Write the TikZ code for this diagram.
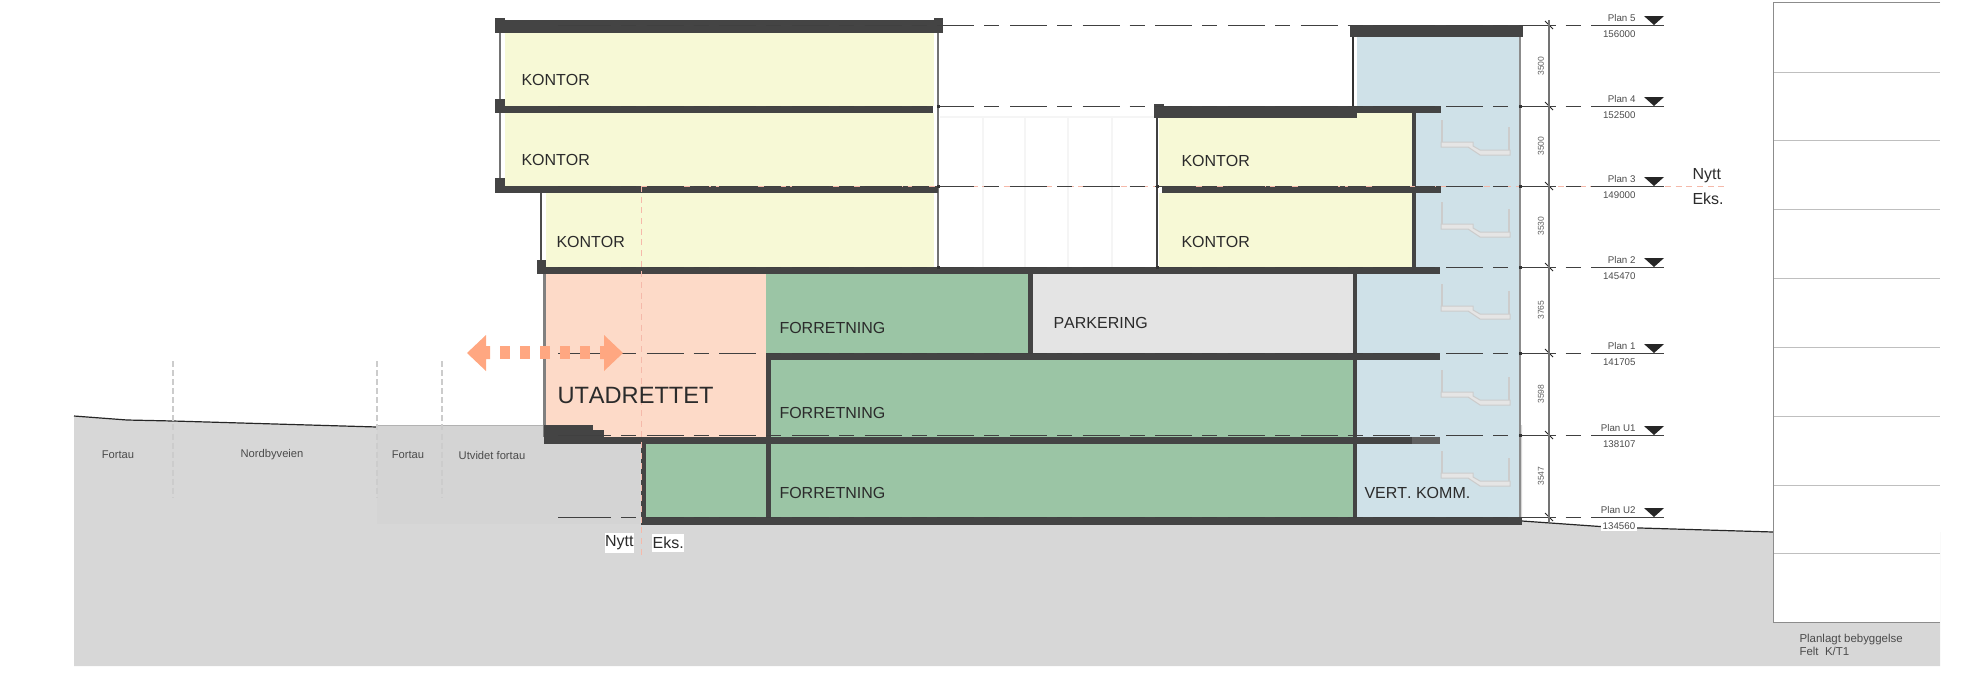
\documentclass[tikz,border=0pt]{standalone}
\usepackage{fontspec}
\setmainfont[Kerning=Off]{Liberation Sans}
\definecolor{kontorcol}{HTML}{F7F9D6}
\definecolor{utacol}{HTML}{FDDAC8}
\definecolor{forrcol}{HTML}{9BC5A5}
\definecolor{kommcol}{HTML}{CFE1E8}
\definecolor{parkcol}{HTML}{E4E4E4}
\definecolor{groundcol}{HTML}{D7D7D7}
\definecolor{slabcol}{HTML}{444444}
\definecolor{textcol}{HTML}{2B2B2B}
\definecolor{arrowcol}{HTML}{FFA781}
\definecolor{snittcol}{HTML}{F5B9AA}
\tikzset{every picture/.style={line width=0.75pt}}
\tikzset{
  roomtext/.style={anchor=west,inner sep=0pt,text=textcol,font=\fontsize{12}{14}\selectfont},
  roadtext/.style={inner sep=0pt,text=textcol!85,font=\fontsize{8.4}{10}\selectfont},
  plantext/.style={anchor=east,inner sep=0pt,text=textcol!85,font=\fontsize{7.3}{9}\selectfont},
  dimtext/.style={rotate=90,inner sep=0pt,text=textcol!75,font=\fontsize{6.4}{8}\selectfont},
  whitetext/.style={roomtext,fill=white,inner xsep=0.5pt,inner ysep=2pt},
  slab/.style={fill=slabcol},
  levelline/.style={draw=black!75,line width=0.6pt,dash pattern=on 27.75pt off 7.5pt on 11.25pt off 8pt},
}

\begin{document}
\begin{tikzpicture}[x=0.75pt,y=0.75pt,yscale=-1,xscale=1]
    \useasboundingbox (0,0) rectangle (1970,679);

    % Ground
    \fill[groundcol] (74,416) -- (127,420) -- (173,421) -- (377,427) -- (377,425) -- (1522,425) -- (1522,521) -- (1607,527) -- (1740,531) -- (1773,532) -- (1940,532) -- (1940,666) -- (74,666) -- cycle;
    \fill[black!17] (377,425) rectangle (640,524);
    \draw[black!85,line width=0.9pt] (74,416) -- (127,420) -- (173,421) -- (377,427);
    \draw[black!30] (377,425) -- (544,425);
    \draw[black!85,line width=0.9pt] (1522,521) -- (1607,527) -- (1740,531) -- (1773,532);

    % Planned buildings table
    \fill[white] (1773,2.5) rectangle (1940,622);
    \foreach \y in {72,140,209,278,347,416,485,553} {
      \draw[black!25] (1773,\y) -- (1940,\y);
    }
    \draw[black!45] (1940,2.5) -- (1773,2.5) -- (1773,622) -- (1940,622);

    % Road divisions
    \foreach \x in {173,377,442} {
      \draw[black!20,line width=1.2pt,dash pattern=on 4.5pt off 2.3pt] (\x,361) -- (\x,498);
    }

    % Rooms
    \fill[kommcol] (1357,37) rectangle (1520,113);
    \fill[kommcol] (1416,113) rectangle (1520,267);
    \fill[kommcol] (1357,267) rectangle (1520,517);
    \fill[kontorcol] (505,33) rectangle (934,106);
    \fill[kontorcol] (505,113) rectangle (934,186);
    \fill[kontorcol] (546,193) rectangle (934,267);
    \fill[kontorcol] (1159,113) rectangle (1412,186);
    \fill[kontorcol] (1159,193) rectangle (1412,267);
    \fill[utacol] (545,274) rectangle (766,437);
    \fill[forrcol] (766,274) rectangle (1030,353);
    \fill[parkcol] (1033,274) rectangle (1355,353);
    \fill[forrcol] (771,360) rectangle (1355,437);
    \fill[forrcol] (771,444) rectangle (1355,517);
    \fill[forrcol] (646,444) rectangle (768,517);

    % Faint lines in the open gap
    \foreach \x in {983,1025,1068,1112} {
      \draw[black!4,line width=1pt] (\x,118) -- (\x,267);
    }
    \draw[black!4,line width=1pt] (940,117) -- (1154,117);

    % Thin walls
    \draw[black!55,line width=1.6pt] (500,33) -- (500,178);
    \draw[black!70,line width=1.2pt] (541,193) -- (541,262);
    \draw[black!55,line width=1.6pt] (938,33) -- (938,267);
    \draw[black!75,line width=1.2pt] (1157,118) -- (1157,267);
    \draw[black!80,line width=1.2pt] (1353,37) -- (1353,106);
    \draw[black!50,line width=1.6pt] (544.5,274) -- (544.5,437);
    \draw[black!45,line width=2pt] (1520,37) -- (1520,517);

    % Slabs
    \fill[slab] (495,18) rectangle (505,33);
    \fill[slab] (505,20) rectangle (934,33);
    \fill[slab] (934,18) rectangle (943,33);
    \fill[slab] (495,99) rectangle (505,113);
    \fill[slab] (505,106) rectangle (933,113);
    \fill[slab] (495,178) rectangle (505,193);
    \fill[slab] (505,186) rectangle (938,193);
    \fill[slab] (537,260) rectangle (546,274);
    \fill[slab] (546,267) rectangle (1440,274);
    \fill[slab] (1154,104) rectangle (1164,118);
    \fill[slab] (1164,106) rectangle (1357,118);
    \fill[slab] (1357,106) rectangle (1441,113);
    \fill[slab] (1162,186) rectangle (1441,193);
    \fill[slab] (1350,25) rectangle (1523,37);
    \fill[slab] (771,353) rectangle (1440,360);
    \fill[slab] (544,437) rectangle (1412,444);
    \fill[slabcol!85] (1412,437) rectangle (1440,444);
    \fill[slab] (544,425) rectangle (593,437);
    \fill[slab] (593,430) rectangle (604,437);
    \fill[slab] (642,517) rectangle (1522,525);

    % Thick walls
    \fill[slab] (1412,113) rectangle (1416,267);
    \fill[slab] (1028,267) rectangle (1033,353);
    \fill[slab] (1353,274) rectangle (1357,517);
    \fill[slab] (766,353) rectangle (771,517);
    \fill[slab] (641,437) rectangle (646,525);

    % Stairs
    \foreach \y in {142,224,306,392,473} {
      \begin{scope}[shift={(1441,\y)}]
        \draw[black!20,line width=0.8pt] (1,-22) -- (1,0);
        \draw[black!20,line width=0.8pt] (68,-15) -- (68,8);
        \draw[black!20,fill=black!10] (0,0) -- (32,0) -- (32,4) -- (39,8) -- (69,8) -- (69,13) -- (39,13) -- (27,5) -- (0,5) -- cycle;
      \end{scope}
    }

    % Section line new and existing
    \draw[snittcol,dash pattern=on 4.5pt off 3.5pt] (641,186) -- (641,557);
    \draw[snittcol,dash pattern=on 4.5pt off 3.5pt] (641,186) -- (1727,186);

    % Level lines
    \foreach \y in {25,106,186,267,353,435,517} {
      \draw[black!75,line width=0.6pt] (558,\y) -- (574,\y);
      \draw[levelline] (574,\y) -- (1592,\y);
      \draw[black!75,line width=0.6pt] (1592,\y) -- (1664,\y);
      \fill[black!85] (1644,\y-9) -- (1664,\y-9) -- (1654,\y) -- cycle;
      \draw[black!85,line width=0.7pt] (1545,\y-4) -- (1553,\y+4);
    }
    \foreach \y in {106,186,267,353,435} {
      \fill[black!80] (1518.5,\y-1.5) rectangle (1521.5,\y+1.5);
    }
    \foreach \y in {106,186,267} {
      \fill[black!80] (936.5,\y-1.5) rectangle (939.5,\y+1.5);
    }
    \foreach \y in {186,267} {
      \fill[black!80] (1155.5,\y-1.5) rectangle (1158.5,\y+1.5);
    }

    % Dimension line
    \draw[black!55,line width=1.3pt] (1549,20) -- (1549,522);

    % Arrow
    \fill[arrowcol] (467,353) -- (486,335) -- (486,346) -- (490,346) -- (490,359) -- (486,359) -- (486,371) -- cycle;
    \fill[arrowcol] (623,353) -- (604,335) -- (604,346) -- (600,346) -- (600,359) -- (604,359) -- (604,371) -- cycle;
    \foreach \x in {500,520,540,560,580} {
      \fill[arrowcol] (\x,346) rectangle (\x+10,359);
    }

    % Text Node
    \node (kontorA) [roomtext] at (521,80) {KONTOR};
    \node (kontorB) [roomtext] at (521,160) {KONTOR};
    \node (kontorC) [roomtext] at (556,242) {KONTOR};
    \node (kontorD) [roomtext] at (1181,161) {KONTOR};
    \node (kontorE) [roomtext] at (1181,242) {KONTOR};
    \node (forrA) [roomtext] at (779,328) {FORRETNING};
    \node (forrB) [roomtext] at (779,413) {FORRETNING};
    \node (forrC) [roomtext] at (779,493) {FORRETNING};
    \node (park) [roomtext] at (1053,323) {PARKERING};
    \node (komm) [roomtext] at (1364,493) {VERT. KOMM.};
    \node (uta) [roomtext,font=\fontsize{17.7}{20}\selectfont] at (557,395) {UTADRETTET};
    \node (nyttA) [whitetext] at (604,543) {Nytt};
    \node (eksA) [whitetext] at (651.5,543) {Eks.};
    \node (nyttB) [roomtext] at (1692,176) {Nytt};
    \node (eksB) [roomtext] at (1692,199) {Eks.};

    % Road Text
    \node (fortauA) [roadtext] at (118,455) {Fortau};
    \node (veien) [roadtext] at (272,455) {Nordbyveien};
    \node (fortauB) [roadtext] at (408,455) {Fortau};
    \node (fortauC) [roadtext] at (492,455) {Utvidet fortau};
    \node (felt) [roadtext,anchor=west,align=left,font=\fontsize{8.6}{10}\selectfont] at (1799,645) {Planlagt bebyggelse\\Felt\ \ K/T1};

    % Level Text
    \foreach \name/\y/\plan/\kote in {five/25/Plan 5/156000,four/106/Plan 4/152500,three/186/Plan 3/149000,two/267/Plan 2/145470,one/353/Plan 1/141705,uone/435/Plan U1/138107} {
      \node (plan\name) [plantext] at (1636,\y-7) {\plan};
      \node (kote\name) [plantext] at (1636,\y+9) {\kote};
    }
    \node (planutwo) [plantext] at (1636,510) {Plan U2};
    \node (koteutwo) [plantext,fill=white,inner xsep=1pt,inner ysep=1.5pt] at (1637,526) {134560};

    % Dimension Text
    \foreach \name/\y/\mal in {a/66/3500,b/146/3500,c/226/3530,d/310/3765,e/394/3598,f/476/3547} {
      \node (dim\name) [dimtext] at (1541,\y) {\mal};
    }

\end{tikzpicture}
\end{document}
